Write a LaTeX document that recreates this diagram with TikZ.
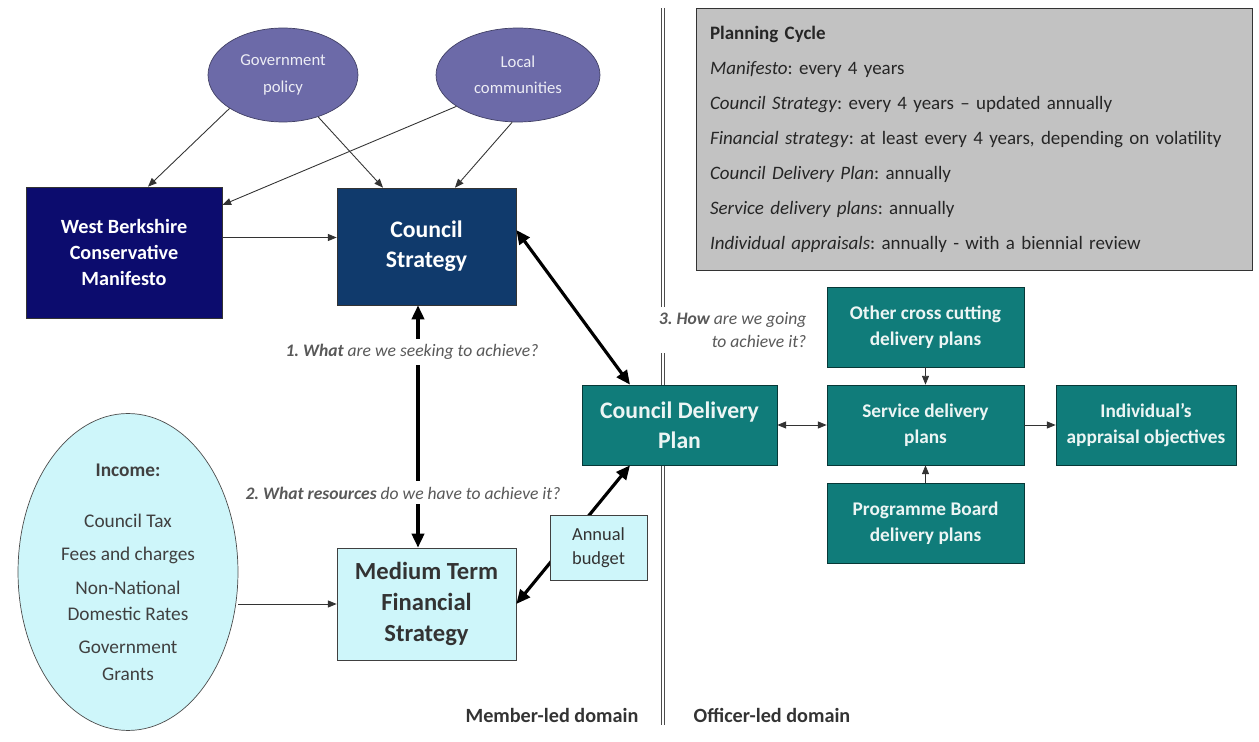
\documentclass[tikz,border=0pt]{standalone}
\usepackage{fontspec}
\setmainfont{Carlito}
\frenchspacing
\usetikzlibrary{shapes.geometric,arrows.meta}
\definecolor{navyfill}{RGB}{12,12,110}
\definecolor{stratfill}{RGB}{16,58,108}
\definecolor{tealfill}{RGB}{16,124,122}
\definecolor{palefill}{RGB}{206,246,250}
\definecolor{lilacfill}{RGB}{108,106,168}
\definecolor{cyclefill}{RGB}{194,194,194}
\tikzset{
  srcnode/.style = {ellipse, fill=lilacfill, draw=lilacfill!60!black, minimum height=1.88cm, inner sep=0pt, align=center, text=white!88!lilacfill, font=\fontsize{9.5}{15}\selectfont},
  darkbox/.style = {rectangle, draw=black!80, align=center, text=white},
  tealbox/.style = {rectangle, fill=tealfill, draw=tealfill!45!black, text=white!92!tealfill, align=center, minimum width=3.94cm, minimum height=1.6cm, font=\bfseries\fontsize{11}{15}\selectfont},
  palebox/.style = {rectangle, fill=palefill, draw=black!75, align=center, text=black!80},
  question/.style = {fill=white, inner sep=3pt, text=black!65, font=\itshape\fontsize{10}{13}\selectfont},
  feed/.style = {-{Triangle[length=5pt,width=4pt]}, black!80, line width=0.5pt},
  bigarrow/.style = {{Triangle[length=8pt,width=7pt]}-{Triangle[length=8pt,width=7pt]}, line width=1.8pt},
  domainlbl/.style = {font=\bfseries\fontsize{11.5}{13}\selectfont, text=black!80}
}

\begin{document}
\begin{tikzpicture}[x=0.02cm, y=-0.02cm]
\useasboundingbox (0,0) rectangle (1259,742);

% Divider between the two domains
\coordinate (divtop) at (663,8);
\coordinate (divbot) at (663,725);
\draw[black!70, double=white, double distance=1.4pt, line width=0.5pt] (divtop) -- (divbot);

% Influences
\node [srcnode, minimum width=3cm] (gov) at (283,75) {Government\\policy};
\node [srcnode, minimum width=3.28cm] (local) at (518,75) {Local\\communities};

% Member-led boxes
\node [darkbox, fill=navyfill, minimum width=3.92cm, minimum height=2.62cm,
       font=\bfseries\fontsize{11.5}{15}\selectfont] (manifesto) at (124,252.5)
      {West Berkshire\\Conservative\\Manifesto};
\node [darkbox, fill=stratfill, minimum width=3.58cm, minimum height=2.34cm,
       font=\bfseries\fontsize{13.5}{17}\selectfont] (strategy) at (426.5,246.5)
      {Council\\Strategy};
\node [ellipse, fill=palefill, draw=black!70, minimum width=4.4cm, minimum height=6.34cm,
       inner sep=0pt, align=center, text=black!75, font=\fontsize{11}{19}\selectfont] (income) at (128,572)
      {\textbf{Income:}\\[10pt]Council Tax\\Fees and charges\\Non-National\\[-4pt]Domestic Rates\\Government\\[-4pt]Grants};
\node [palebox, minimum width=3.58cm, minimum height=2.24cm,
       font=\bfseries\fontsize{14}{17.5}\selectfont] (mtfs) at (426.5,604)
      {Medium Term\\Financial\\Strategy};

% Officer-led boxes
\node [tealbox, minimum width=3.9cm, font=\bfseries\fontsize{13.5}{17}\selectfont] (cdp) at (679.5,425) {Council Delivery\\Plan};
\node [tealbox] (other) at (925.5,327) {Other cross cutting\\delivery plans};
\node [tealbox] (service) at (925.5,425) {Service delivery\\plans};
\node [tealbox] (programme) at (925.5,523) {Programme Board\\delivery plans};
\node [tealbox, minimum width=3.6cm, inner xsep=1pt] (appraisal) at (1146,425) {Individual's\\appraisal objectives};

% Planning cycle
\node [rectangle, fill=cyclefill, draw=black!80, minimum width=11.12cm, minimum height=5.24cm,
       inner xsep=0.28cm, text width=10.56cm, align=left, text=black!85,
       font=\fontsize{10.8}{19.9}\selectfont] (cycle) at (974,139)
      {\textbf{Planning Cycle}\\
       \textit{Manifesto}: every 4 years\\
       \textit{Council Strategy}: every 4 years -- updated annually\\
       \textit{Financial strategy}: at least every 4 years, depending on volatility\\
       \textit{Council Delivery Plan}: annually\\
       \textit{Service delivery plans}: annually\\
       \textit{Individual appraisals}: annually - with a biennial review};

% Thin feeds
\draw[feed] (gov.212) -- ([xshift=0.48cm]manifesto.north);
\draw[feed] (gov.310) -- ([xshift=-0.87cm]strategy.north);
\draw[feed] (local.207) -- ([yshift=0.95cm]manifesto.east);
\draw[feed] (local.263) -- ([xshift=0.57cm]strategy.north);
\draw[feed] ([yshift=0.3cm]manifesto.east) -- ([yshift=0.3cm]manifesto.east -| strategy.west);
\draw[feed] (mtfs.west -| income.east) -- (mtfs.west);
\draw[feed, {Triangle[length=5pt,width=4pt]}-{Triangle[length=5pt,width=4pt]}] (cdp.east) -- (service.west);
\draw[feed] (service.east) -- (appraisal.west);
\draw[feed] (other.south) -- (service.north);
\draw[feed] (programme.north) -- (service.south);

% Thick links
\draw[bigarrow] ([xshift=-0.17cm]strategy.south) -- ([xshift=-0.17cm]mtfs.north);
\draw[bigarrow] ([yshift=0.33cm]strategy.east) -- ([xshift=-0.99cm]cdp.north);
\draw[bigarrow] (mtfs.east) -- ([xshift=-0.99cm]cdp.south);

% Annual budget sits over the link
\node [palebox, minimum width=1.94cm, minimum height=1.3cm, font=\fontsize{10.5}{13.5}\selectfont] (budget) at (598.5,547.5) {Annual\\budget};

% Questions
\node [question] (q1) at (412,352) {\textbf{1. What} are we seeking to achieve?};
\node [question] (q2) at (403,493) {\textbf{2. What resources} do we have to achieve it?};
\node [question, align=right, anchor=east] (q3) at (812,330) {\textbf{3. How} are we going\\to achieve it?};

% Domains
\node [domainlbl] (member) at (552,715) {Member-led domain};
\node [domainlbl] (officer) at (772,715) {Officer-led domain};

\end{tikzpicture}
\end{document}
